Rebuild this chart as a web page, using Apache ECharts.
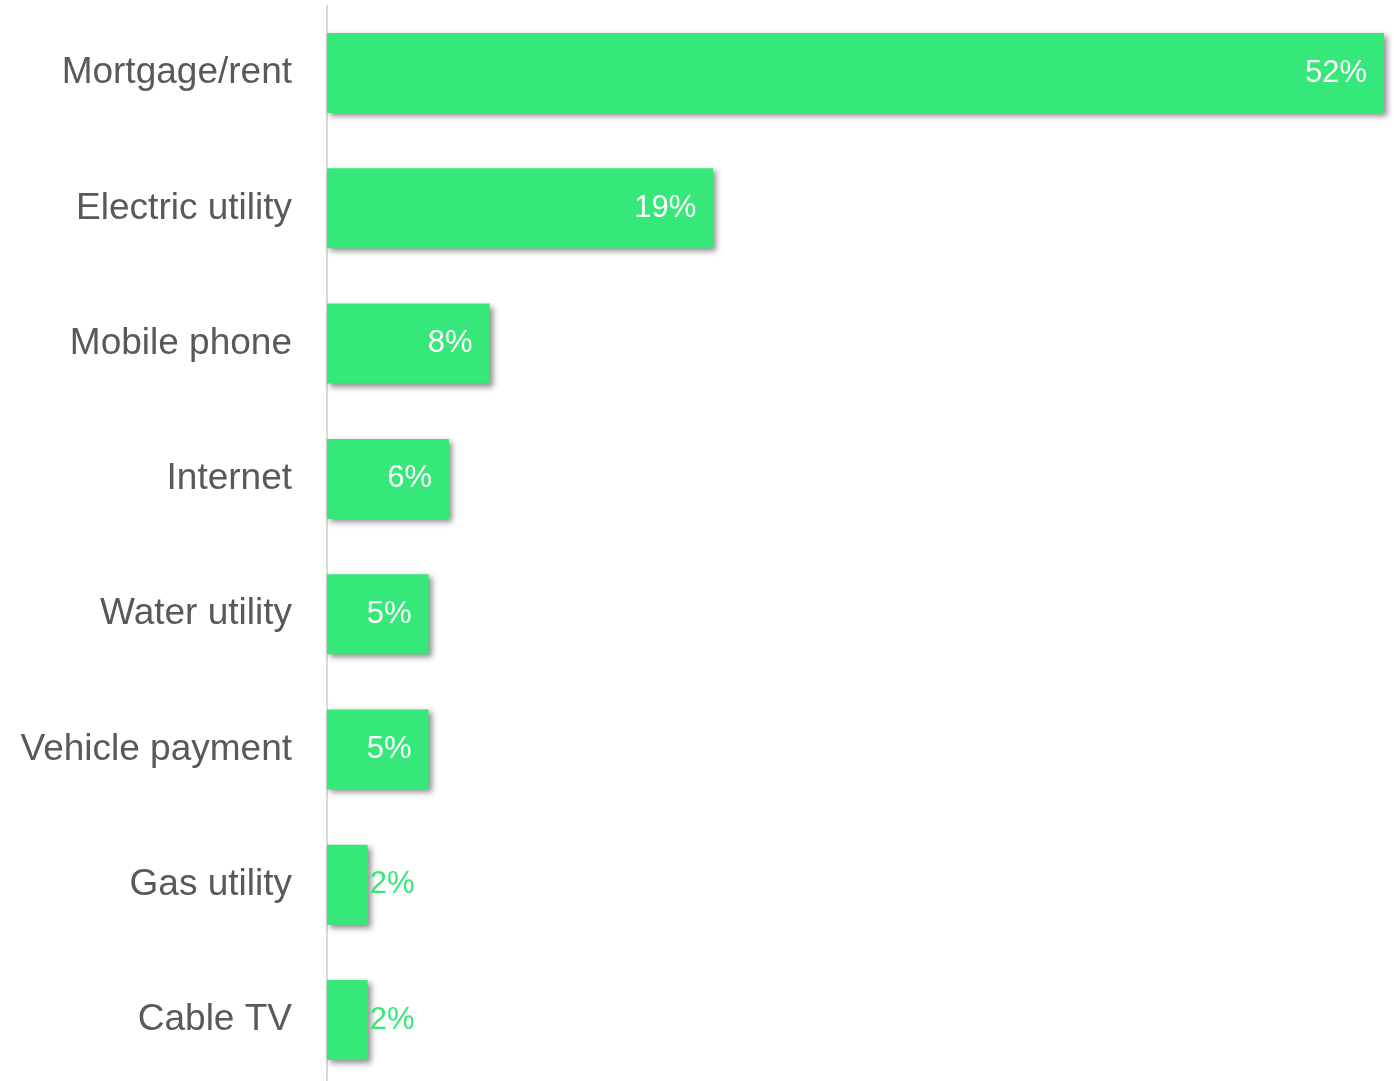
<!DOCTYPE html>
<html>
<head>
<meta charset="utf-8">
<style>
  html, body { margin: 0; padding: 0; background: #ffffff; overflow: hidden; }
  /* canvas runs a little past the bottom so the last band is cut like the page edge */
  #chart { width: 1394px; height: 1100px; }
</style>
<script src="https://cdn.jsdelivr.net/npm/echarts@6/dist/echarts.min.js"></script>
</head>
<body>
<div id="chart"></div>
<script>
// Share of respondents by bill type (percent)
const categories = ['Mortgage/rent', 'Electric utility', 'Mobile phone', 'Internet',
                    'Water utility', 'Vehicle payment', 'Gas utility', 'Cable TV'];
const shares = [52, 19, 8, 6, 5, 5, 2, 2];

const barColor = '#36e87a';
const fontFamily = '"Liberation Sans", Arial, sans-serif';

// Narrow bars cannot hold their label, so it goes outside in the bar colour
const seriesData = shares.map(v => {
  if (v < 4) {
    return {
      value: v,
      label: { position: 'right', distance: 2, color: barColor }
    };
  }
  return { value: v };
});

const chart = echarts.init(document.getElementById('chart'), null, { renderer: 'canvas' });
chart.setOption({
  animation: false,
  grid: { left: 327, top: 5.4, width: 1057, height: 1082.3, containLabel: false },
  xAxis: {
    type: 'value',
    min: 0,
    max: 52,
    show: false
  },
  yAxis: {
    type: 'category',
    data: categories,
    inverse: true,
    offset: 1,
    axisLine: { show: true, lineStyle: { color: '#d9d9d9', width: 2 } },
    axisTick: { show: false },
    axisLabel: {
      margin: 34,
      fontSize: 37,
      color: '#595959',
      fontFamily: fontFamily,
      padding: [5, 0, 0, 0]
    },
    splitLine: { show: false }
  },
  series: [{
    type: 'bar',
    data: seriesData,
    barWidth: 80,
    itemStyle: {
      color: barColor,
      shadowColor: 'rgba(0,0,0,0.45)',
      shadowBlur: 6,
      shadowOffsetX: 3,
      shadowOffsetY: 3
    },
    label: {
      show: true,
      position: 'insideRight',
      distance: 17,
      color: '#ffffff',
      fontSize: 31,
      fontFamily: fontFamily,
      padding: [4, 0, 0, 0],
      formatter: p => p.value + '%'
    }
  }]
});
</script>
</body>
</html>
